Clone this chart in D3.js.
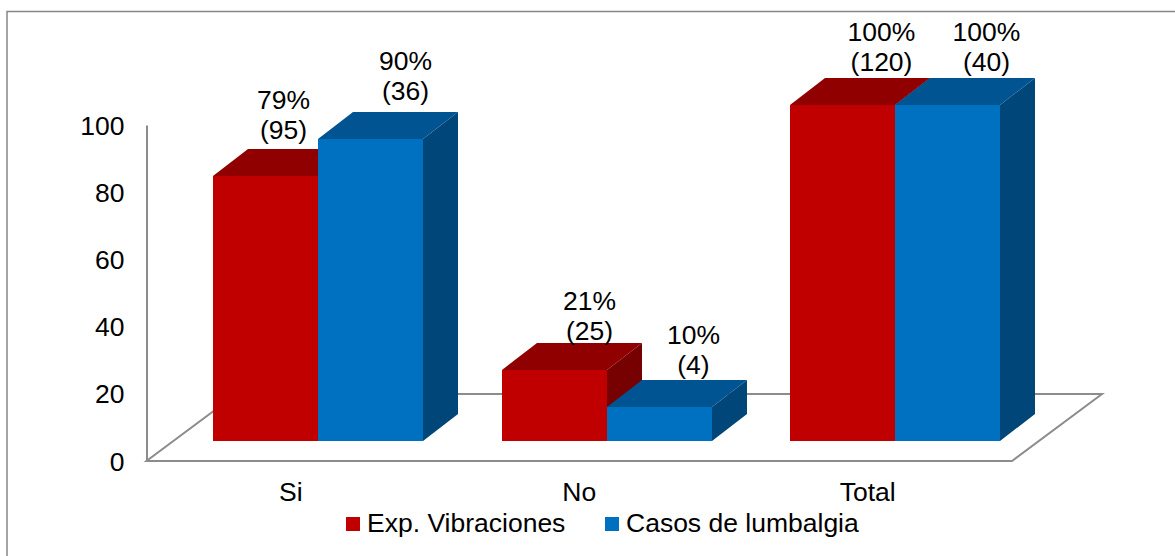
<!DOCTYPE html>
<html>
<head>
<meta charset="utf-8">
<script src="https://cdn.jsdelivr.net/npm/d3@7"></script>
<style>
  html, body { margin: 0; padding: 0; background: #fff; }
  svg { display: block; }
  text { font-family: "Liberation Sans", Arial, sans-serif; fill: #000; }
</style>
</head>
<body>
<svg id="chart" width="1175" height="556"></svg>
<script>
var categories = ["Si", "No", "Total"];
var seriesNames = ["Exp. Vibraciones", "Casos de lumbalgia"];
var expVibraciones = [79, 21, 100];
var casosLumbalgia = [90, 10, 100];
var expCounts = [95, 25, 120];
var casosCounts = [36, 4, 40];
var yTicks = [0, 20, 40, 60, 80, 100];

var svg = d3.select("#chart");

var fontSize = 26.5;
var line = "#8c8c8c";

// floor depth of the 3d box, and the bar depth inside it
var floorDx = 90, floorDy = 67;
var barDx = 35, barDy = 27;
var insetX = (floorDx - barDx) / 2, insetY = (floorDy - barDy) / 2;

var x = d3.scaleBand().domain(categories).range([146.5, 1012]);
var y = d3.scaleLinear().domain([0, 100]).range([461, 125]);

var colors = [
  {front: "#c00000", top: "#900000", side: "#770000"},
  {front: "#0070c0", top: "#005491", side: "#004679"}
];

// outer frame
svg.append("path")
  .attr("d", "M7,556V11.5H1175")
  .attr("fill", "none")
  .attr("stroke", "#868686")
  .attr("stroke-width", 1.5);

// floor
var floorLeft = x.range()[0], floorRight = x.range()[1], y0 = y(0);
svg.append("path")
  .attr("d", "M" + (floorLeft + floorDx) + "," + (y0 - floorDy) +
    "H" + (floorRight + floorDx) +
    "L" + floorRight + "," + y0 +
    "H" + floorLeft +
    "Z")
  .attr("fill", "none")
  .attr("stroke", line)
  .attr("stroke-width", 2);

// y axis
var yAxis = svg.append("g")
  .attr("transform", "translate(" + floorLeft + ",0)")
  .call(d3.axisLeft(y).tickValues(yTicks).tickSize(0).tickPadding(22));
yAxis.select(".domain").attr("stroke", line).attr("stroke-width", 2);
yAxis.selectAll("text")
  .attr("font-size", fontSize)
  .attr("font-family", null)
  .attr("dy", 9);

// x labels
svg.selectAll(".xlabel")
  .data(categories)
  .enter()
  .append("text")
  .attr("class", "xlabel")
  .attr("x", function(d){ return x(d) + x.bandwidth() / 2; })
  .attr("y", 500.5)
  .attr("text-anchor", "middle")
  .attr("font-size", fontSize)
  .text(function(d){ return d; });

var barW = 105;
function barX(cat, s) {
  return Math.round(x(cat) + x.bandwidth() / 2 + insetX + (s - 1) * barW);
}
// whole pixels so no seam shows between top and front faces
function barTop(v) {
  return Math.round(y(v) - insetY);
}
var barBase = Math.round(y(0) - insetY);

var series = [expVibraciones, casosLumbalgia];
var bars = [];
categories.forEach(function(cat, c){
  series.forEach(function(vals, s){
    bars.push({cat: cat, s: s, v: vals[c]});
  });
});

var bar = svg.selectAll(".bar")
  .data(bars)
  .enter()
  .append("g")
  .attr("class", "bar");

function face(px) {
  return px.map(function(p){ return p.join(","); }).join(" ");
}

// side first so the neighbour front face covers it
bar.append("polygon")
  .attr("fill", function(d){ return colors[d.s].side; })
  .attr("points", function(d){
    var l = barX(d.cat, d.s) + barW, t = barTop(d.v);
    return face([[l, t], [l + barDx, t - barDy], [l + barDx, barBase - barDy], [l, barBase]]);
  });
bar.append("polygon")
  .attr("fill", function(d){ return colors[d.s].top; })
  .attr("points", function(d){
    var l = barX(d.cat, d.s), t = barTop(d.v);
    return face([[l, t], [l + barDx, t - barDy], [l + barW + barDx, t - barDy], [l + barW, t]]);
  });
bar.append("rect")
  .attr("fill", function(d){ return colors[d.s].front; })
  .attr("x", function(d){ return barX(d.cat, d.s); })
  .attr("y", function(d){ return barTop(d.v); })
  .attr("width", barW)
  .attr("height", function(d){ return barBase - barTop(d.v); });

// data labels were dragged by hand in the original, so each has its own nudge
var nudges = [[18, -10], [35, -12], [35, -3], [34, -6], [39, -7], [39, -7]];
var counts = [expCounts, casosCounts];
bars.forEach(function(d, i){
  var c = categories.indexOf(d.cat);
  var cx = barX(d.cat, d.s) + barW / 2 + nudges[i][0];
  var base = barTop(d.v) - barDy + nudges[i][1];
  var t = svg.append("text")
    .attr("class", "dlabel")
    .attr("text-anchor", "middle")
    .attr("font-size", fontSize);
  t.append("tspan").attr("x", cx).attr("y", base - 30).text(d.v + "%");
  t.append("tspan").attr("x", cx).attr("y", base).text("(" + counts[d.s][c] + ")");
});

// legend
var legendX = [346, 605];
seriesNames.forEach(function(name, i){
  svg.append("rect")
    .attr("x", legendX[i])
    .attr("y", 517)
    .attr("width", 14)
    .attr("height", 14)
    .attr("fill", colors[i].front);
  svg.append("text")
    .attr("x", legendX[i] + 21)
    .attr("y", 532)
    .attr("font-size", fontSize)
    .text(name);
});
</script>
</body>
</html>
